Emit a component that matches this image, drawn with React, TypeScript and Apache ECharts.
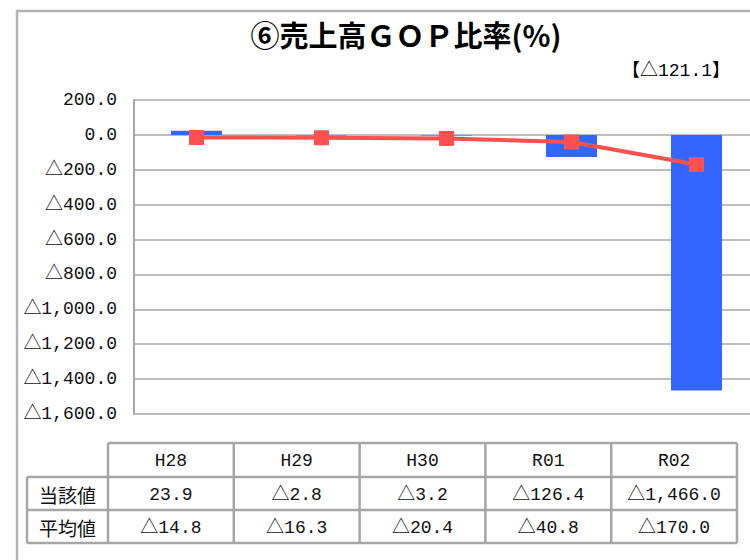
import React, { useEffect, useRef } from "react";
import * as echarts from "echarts";

const categories = ["H28", "H29", "H30", "R01", "R02"];
const currentValues = [23.9, -2.8, -3.2, -126.4, -1466.0];
const averageValues = [-14.8, -16.3, -20.4, -40.8, -170.0];
const rowLabels = ["当該値", "平均値"];
const headlineValue = -121.1;
const titleText = "⑥売上高ＧＯＰ比率(%)";

const NUM_FONT = "'Liberation Mono', 'Noto Sans CJK JP', sans-serif";
const JP_FONT = "'Noto Sans CJK JP', sans-serif";

function fmt(v: number): string {
  const s = Math.abs(v).toLocaleString("en-US", {
    minimumFractionDigits: 1,
    maximumFractionDigits: 1,
  });
  return (v < 0 ? "△" : "") + s;
}

export default function App() {
  const ref = useRef<HTMLDivElement>(null);
  useEffect(() => {
    if (!ref.current) return;
    const chart = echarts.init(ref.current, null, { renderer: "svg" });

    const gridLeft = 134;
    const gridTop = 100;
    const gridW = 625;
    const gridH = 314;

    // table geometry
    const tX0 = 108;
    const colW = 125.8;
    const labelX = 27;
    const rowY = [443, 477, 510, 543];
    const lineColor = "#A6A6A6";
    const graphics: any[] = [];

    // outer border
    graphics.push({
      type: "rect",
      shape: { x: 17, y: 11, width: 900, height: 700 },
      style: { fill: "none", stroke: "#B4B4B4", lineWidth: 2.5 },
      z: 0,
    });

    const tableRight = tX0 + colW * categories.length;
    graphics.push({
      type: "line",
      shape: { x1: tX0, y1: rowY[0], x2: tableRight, y2: rowY[0] },
      style: { stroke: lineColor, lineWidth: 2.5 },
    });
    for (let r = 1; r < rowY.length; r++) {
      graphics.push({
        type: "line",
        shape: { x1: labelX, y1: rowY[r], x2: tableRight, y2: rowY[r] },
        style: { stroke: lineColor, lineWidth: 2.5 },
      });
    }
    graphics.push({
      type: "line",
      shape: { x1: labelX, y1: rowY[1], x2: labelX, y2: rowY[3] },
      style: { stroke: lineColor, lineWidth: 2.5 },
    });
    for (let c = 0; c <= categories.length; c++) {
      const x = tX0 + colW * c;
      graphics.push({
        type: "line",
        shape: { x1: x, y1: rowY[0], x2: x, y2: rowY[3] },
        style: { stroke: lineColor, lineWidth: 2.5 },
      });
    }
    categories.forEach((cat, i) => {
      graphics.push({
        type: "text",
        x: tX0 + colW * (i + 0.5),
        y: (rowY[0] + rowY[1]) / 2 + 1,
        style: {
          text: cat,
          fill: "#111",
          font: `18px ${NUM_FONT}`,
          align: "center",
          verticalAlign: "middle",
        },
      });
    });
    rowLabels.forEach((lab, r) => {
      graphics.push({
        type: "text",
        x: (labelX + tX0) / 2,
        y: (rowY[r + 1] + rowY[r + 2]) / 2 + 1,
        style: {
          text: lab,
          fill: "#111",
          font: `normal 19px ${JP_FONT}`,
          align: "center",
          verticalAlign: "middle",
        },
      });
    });
    const rows = [currentValues, averageValues];
    rows.forEach((vals, r) => {
      vals.forEach((v, i) => {
        graphics.push({
          type: "text",
          x: tX0 + colW * (i + 0.5),
          y: (rowY[r + 1] + rowY[r + 2]) / 2 + 1,
          style: {
            text: fmt(v),
            fill: "#111",
            font: `18px ${NUM_FONT}`,
            align: "center",
            verticalAlign: "middle",
          },
        });
      });
    });
    graphics.push({
      type: "text",
      x: 406,
      y: 34,
      style: {
        text: titleText,
        fill: "#000",
        font: `bold 29px ${JP_FONT}`,
        align: "center",
        verticalAlign: "middle",
      },
    });
    graphics.push({
      type: "text",
      x: 676,
      y: 71,
      style: {
        text: "【" + fmt(headlineValue) + "】",
        fill: "#000",
        font: `18px ${NUM_FONT}`,
        align: "center",
        verticalAlign: "middle",
      },
    });

    chart.setOption({
      animation: false,
      backgroundColor: "#fff",
      grid: {
        left: gridLeft,
        top: gridTop,
        width: gridW,
        height: gridH,
        outerBoundsMode: "none",
        containLabel: false,
      },
      xAxis: {
        type: "category",
        data: categories,
        axisLine: { show: false },
        axisTick: { show: false },
        axisLabel: { show: false },
        splitLine: { show: false },
      },
      yAxis: {
        type: "value",
        min: -1600,
        max: 200,
        interval: 200,
        axisLine: { show: true, lineStyle: { color: "#A6A6A6", width: 2 } },
        axisTick: { show: false },
        axisLabel: {
          formatter: (v: number) => fmt(v),
          color: "#111",
          fontSize: 18,
          fontFamily: NUM_FONT,
          margin: 17,
        },
        splitLine: { show: true, lineStyle: { color: "#BEBEBE", width: 2 } },
      },
      series: [
        {
          type: "bar",
          data: currentValues,
          barWidth: 51,
          itemStyle: { color: "#3366FF" },
          z: 2,
        },
        {
          type: "line",
          data: averageValues,
          symbol: "rect",
          symbolSize: 15,
          lineStyle: { color: "#FF5050", width: 4 },
          itemStyle: { color: "#FF5050" },
          z: 3,
        },
      ],
      graphic: graphics,
    });
    return () => chart.dispose();
  }, []);
  return (
    <div
      ref={ref}
      style={{ position: "absolute", left: 0, top: 0, width: 750, height: 560 }}
    />
  );
}
